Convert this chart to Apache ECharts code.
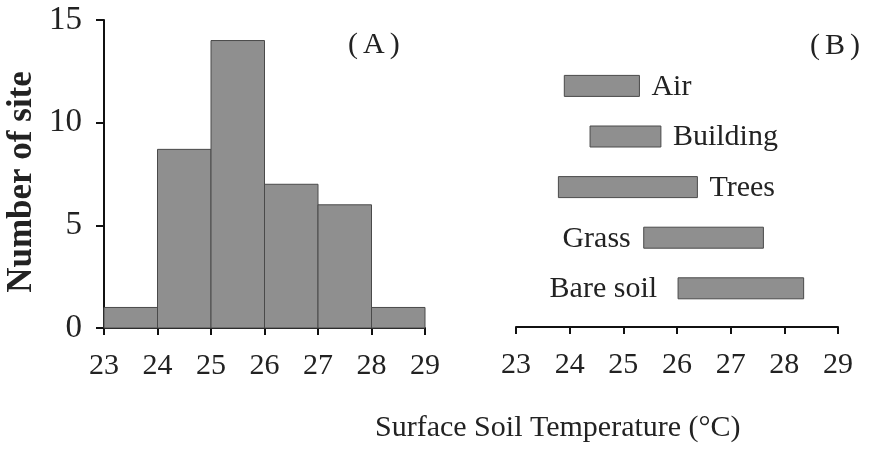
<!DOCTYPE html>
<html>
<head>
<meta charset="utf-8">
<script src="https://cdn.jsdelivr.net/npm/echarts@6/dist/echarts.min.js"></script>
<style>
  html, body { margin: 0; padding: 0; background: #fff; }
  #chart { width: 871px; height: 463px; }
</style>
</head>
<body>
<div id="chart"></div>
<script>
// Panel A: histogram of site counts per 1 °C temperature bin
const binStarts = [23, 24, 25, 26, 27, 28];
const siteCounts = [1, 8.7, 14, 7, 6, 1];

// Panel B: temperature range for each surface type
const surfaceTypes = ['Air', 'Building', 'Trees', 'Grass', 'Bare soil'];
const rangeLow  = [23.90, 24.38, 23.79, 25.38, 26.02];
const rangeHigh = [25.30, 25.70, 26.38, 27.61, 28.36];

const tempTicks = [23, 24, 25, 26, 27, 28, 29];

const FONT = '"Liberation Serif", "Times New Roman", serif';
const FILL = '#8f8f8f';
const EDGE = '#4a4a4a';

const histData = binStarts.map((s, i) => [s, s + 1, siteCounts[i]]);
const rangeData = surfaceTypes.map((name, i) => [rangeLow[i], rangeHigh[i], i, name]);

// labels for the lower two ranges sit on the left of their bar, with their own gap
const leftLabelGap = { 'Grass': 13, 'Bare soil': 21 };
const RIGHT_GAP = 12;

const chart = echarts.init(document.getElementById('chart'), null, { renderer: 'canvas' });

const tempAxisBase = {
  type: 'value',
  min: tempTicks[0],
  max: tempTicks[tempTicks.length - 1],
  interval: 1,
  splitLine: { show: false },
  axisLine: { show: true, lineStyle: { color: '#111', width: 2 } },
  axisTick: { show: true, length: 7, lineStyle: { color: '#111', width: 2 } },
  axisLabel: { color: '#222', fontFamily: FONT, fontSize: 30, margin: 23 }
};

const panelTag = { fontFamily: FONT, fontSize: 30, fontWeight: 'normal', color: '#222' };

chart.setOption({
  animation: false,
  title: [
    { text: '(\u200A\u200AA\u200A\u200A)', left: 343, top: 25, textStyle: panelTag },
    { text: '(\u200A\u200AB\u200A\u200A)', right: 6, top: 26, textStyle: panelTag },
    { text: 'Surface Soil Temperature (°C)', left: 370, top: 408,
      textStyle: { fontFamily: FONT, fontSize: 30, fontWeight: 'normal', color: '#222' } }
  ],
  grid: [
    { left: 104, right: 446, top: 20, bottom: 135 },
    { left: 516, right: 33, top: 60.6, bottom: 149.4 }
  ],
  xAxis: [
    Object.assign({}, tempAxisBase, { gridIndex: 0 }),
    Object.assign({}, tempAxisBase, { gridIndex: 1, offset: 13.4 })
  ],
  yAxis: [
    {
      gridIndex: 0, type: 'value', min: 0, max: 15, interval: 5,
      name: 'Number of site', nameLocation: 'middle', nameGap: 65,
      nameTextStyle: { fontFamily: FONT, fontSize: 35, fontWeight: 'bold', color: '#222', padding: [0, 0, 0, -16] },
      splitLine: { show: false },
      axisLine: { show: true, lineStyle: { color: '#111', width: 2 } },
      axisTick: { show: true, length: 8, lineStyle: { color: '#111', width: 2 } },
      axisLabel: { color: '#222', fontFamily: FONT, fontSize: 33, margin: 22 }
    },
    {
      gridIndex: 1, type: 'category', data: surfaceTypes, inverse: true,
      show: false
    }
  ],
  series: [
    {
      type: 'custom',
      xAxisIndex: 0, yAxisIndex: 0,
      data: histData,
      encode: { x: [0, 1], y: 2 },
      renderItem: function (params, api) {
        const p0 = api.coord([api.value(0), api.value(2)]);
        const p1 = api.coord([api.value(1), 0]);
        return {
          type: 'rect',
          shape: { x: p0[0], y: p0[1], width: p1[0] - p0[0], height: p1[1] - p0[1] },
          style: { fill: FILL, stroke: EDGE, lineWidth: 1 }
        };
      }
    },
    {
      type: 'custom',
      xAxisIndex: 1, yAxisIndex: 1,
      data: rangeData,
      encode: { x: [0, 1], y: 2 },
      renderItem: function (params, api) {
        const idx = api.value(2);
        const name = surfaceTypes[idx];
        const a = api.coord([api.value(0), idx]);
        const b = api.coord([api.value(1), idx]);
        const h = 21;
        const gapLeft = leftLabelGap[name];
        const left = gapLeft !== undefined;
        return {
          type: 'group',
          children: [
            {
              type: 'rect',
              shape: { x: a[0], y: a[1] - h / 2, width: b[0] - a[0], height: h },
              style: { fill: FILL, stroke: EDGE, lineWidth: 1 }
            },
            {
              type: 'text',
              x: left ? a[0] - gapLeft : b[0] + RIGHT_GAP,
              y: a[1] + 1,
              style: {
                text: name,
                fontFamily: FONT, fontSize: 30, fill: '#222',
                align: left ? 'right' : 'left',
                verticalAlign: 'middle'
              }
            }
          ]
        };
      }
    }
  ]
});
</script>
</body>
</html>
